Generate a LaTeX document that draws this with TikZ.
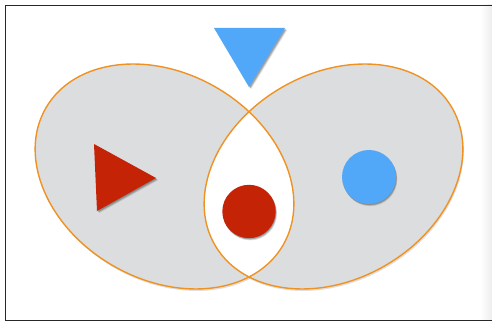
\documentclass[tikz,border=0pt]{standalone}
\usetikzlibrary{calc}
\definecolor{vgray}{RGB}{220,221,223}
\definecolor{vorange}{RGB}{240,146,34}
\definecolor{vred}{RGB}{197,35,6}
\definecolor{vblue}{RGB}{82,168,248}
\definecolor{frameline}{RGB}{40,40,40}
\tikzset{
  softshadow/.style={fill=black,opacity=0.12},
  outline/.style={draw=vorange,line width=1.4pt},
}
\newcommand{\leftell}{(164.5,146.5) ellipse [x radius=137, y radius=103]}
\newcommand{\rightell}{(333.5,146.5) ellipse [x radius=137, y radius=103]}
\begin{document}
\begin{tikzpicture}[x=1pt,y=1pt]
\useasboundingbox (0,0) rectangle (492,323);
\fill[white] (0,0) rectangle (492,323);
% right-edge soft shade
\shade[left color=white,right color=black!7] (480,3) rectangle (492,318);
% frame
\draw[frameline,line width=0.9pt] (492,318) -- (5,318) -- (5,3) -- (492,3);
% ellipse shadows
\begin{scope}[shift={(1,-2)}]
  \fill[softshadow,rotate around={-30:(164.5,146.5)}] \leftell;
  \fill[softshadow,rotate around={30:(333.5,146.5)}] \rightell;
\end{scope}
% ellipse fills
\fill[vgray,rotate around={-30:(164.5,146.5)}] \leftell;
\fill[vgray,rotate around={30:(333.5,146.5)}] \rightell;
% white intersection
\begin{scope}
  \clip[rotate around={-30:(164.5,146.5)}] \leftell;
  \fill[white,rotate around={30:(333.5,146.5)}] \rightell;
\end{scope}
% outlines
\draw[outline,rotate around={-30:(164.5,146.5)}] \leftell;
\draw[outline,rotate around={30:(333.5,146.5)}] \rightell;
% shadows of shapes
\foreach \d/\o in {2.2/0.10,1.6/0.14,1.0/0.18}{
  \fill[black,opacity=\o] ($(94,179)+(\d,-\d)$) -- ($(156,145)+(\d,-\d)$) -- ($(97,112)+(\d,-\d)$) -- cycle;
  \fill[black,opacity=\o] ($(214,295)+(\d,-\d)$) -- ($(285,295)+(\d,-\d)$) -- ($(249,236)+(\d,-\d)$) -- cycle;
  \fill[black,opacity=\o] ($(249,111.5)+(0.6*\d,-\d)$) circle (26.7);
  \fill[black,opacity=\o] ($(369,146)+(0.6*\d,-\d)$) circle (27);
}
% shapes
\fill[vred] (94,179) -- (156,145) -- (97,112) -- cycle;
\fill[vblue] (214,295) -- (285,295) -- (249,236) -- cycle;
\fill[vred] (249,111.5) circle (26.7);
\fill[vblue] (369,146) circle (27);
\end{tikzpicture}
\end{document}
